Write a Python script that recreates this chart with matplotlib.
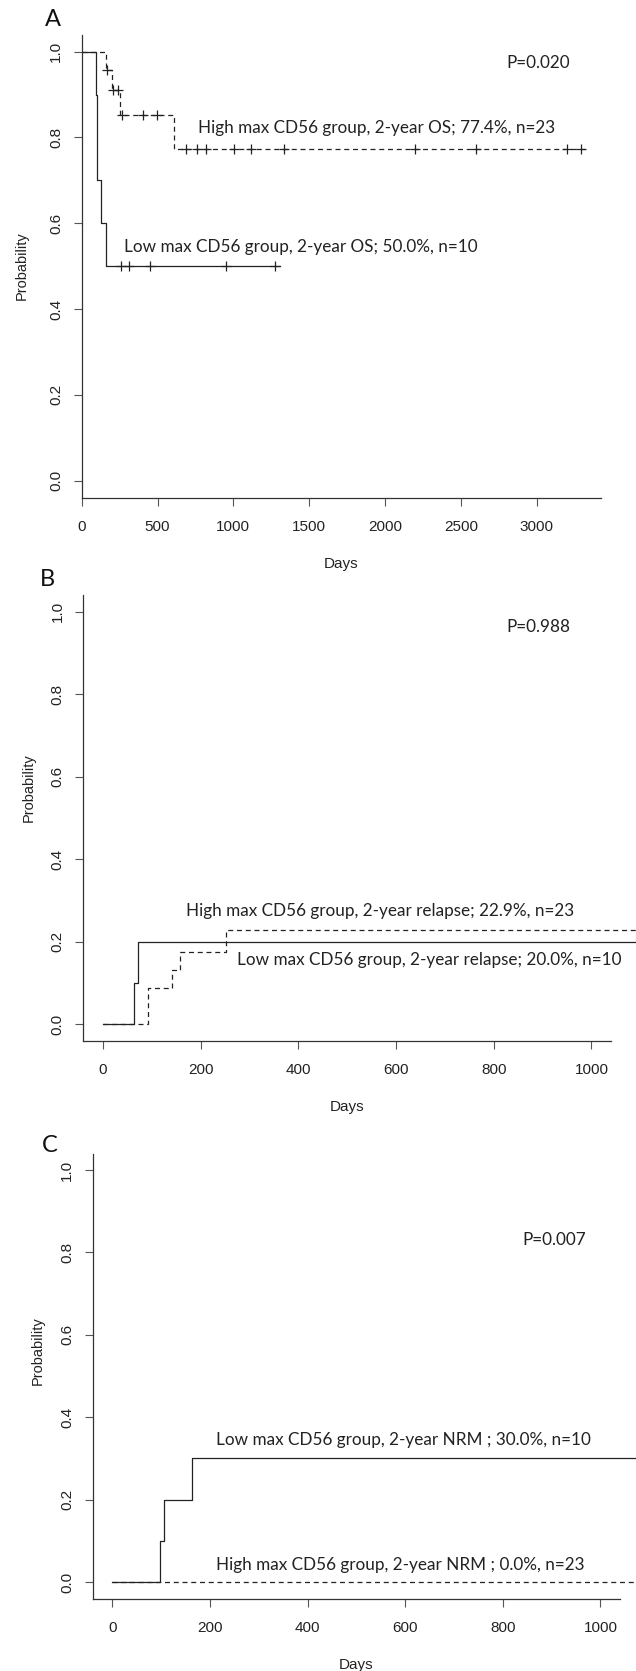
import numpy as np
from matplotlib import pyplot as plt

# Panel A: overall survival, Kaplan-Meier steps (days, probability)
os_low_days = [0, 94, 103, 127, 160, 1307]
os_low_prob = [1.0, 0.9, 0.7, 0.6, 0.5, 0.5]
os_low_censor = [259, 312, 450, 949, 1274]

os_high_days = [0, 160, 198, 250, 611, 3319]
os_high_prob = [1.0, 0.957, 0.911, 0.853, 0.774, 0.774]
os_high_censor = [165, 208, 240, 265, 402, 494, 688, 758, 817, 1006,
                  1114, 1334, 2197, 2597, 3197, 3292]

# Panel B: cumulative incidence of relapse
rel_low_days = [0, 63, 72, 1200]
rel_low_prob = [0.0, 0.1, 0.2, 0.2]
rel_high_days = [0, 92, 142, 157, 252, 1200]
rel_high_prob = [0.0, 0.087, 0.130, 0.174, 0.229, 0.229]

# Panel C: non-relapse mortality
nrm_low_days = [0, 97, 107, 163, 1200]
nrm_low_prob = [0.0, 0.1, 0.2, 0.3, 0.3]
nrm_high_days = [0, 1200]
nrm_high_prob = [0.0, 0.0]

os_xticks = [0, 500, 1000, 1500, 2000, 2500, 3000]
short_xticks = [0, 200, 400, 600, 800, 1000]
prob_ticks = [0.0, 0.2, 0.4, 0.6, 0.8, 1.0]

W, H = 636, 1671
LINE = "#222222"
TICK_FONT = "Liberation Sans"
NOTE_FONT = "Lato"


def step_value(days, prob, t):
    idx = np.searchsorted(days, t, side="right") - 1
    return np.asarray(prob)[idx]


def add_panel(fig, left, right, top, bottom):
    # pixel box -> figure fraction
    return fig.add_axes([left / W, 1 - bottom / H, (right - left) / W, (bottom - top) / H])


def style_axes(ax, xlim, xticks, ylab_dx, ylab_y):
    ax.set_xlim(xlim)
    ax.set_ylim(-0.04, 1.04)
    ax.set_xticks(xticks)
    ax.set_xticklabels([str(v) for v in xticks], family=TICK_FONT)
    ax.set_yticks(prob_ticks)
    ax.set_yticklabels([f"{v:.1f}" for v in prob_ticks], family=TICK_FONT)
    ax.spines[["top", "right"]].set_visible(False)
    for side in ("left", "bottom"):
        ax.spines[side].set_color("#333333")
        ax.spines[side].set_linewidth(0.9)
    ax.tick_params(direction="out", length=5.8, width=0.8, color="#555555",
                   labelsize=11, labelcolor="#222222")
    ax.tick_params(axis="x", pad=10.5)
    ax.tick_params(axis="y", pad=7.5, labelrotation=90)
    for lab in ax.get_yticklabels():
        lab.set_va("center")
    ax.annotate("Days", xy=(0.5, 0), xycoords="axes fraction", xytext=(0, -48),
                textcoords="offset points", ha="center", va="center",
                family=TICK_FONT, fontsize=11, color="#222222")
    ax.annotate("Probability", xy=(0, ylab_y), xycoords="axes fraction",
                xytext=(ylab_dx, 0), textcoords="offset points", ha="center",
                va="center", rotation=90, family=TICK_FONT, fontsize=10.5,
                color="#222222")


def draw_curve(ax, days, prob, dashed, censor=None):
    ls = (0, (4, 3)) if dashed else "-"
    ax.step(days, prob, where="post", color=LINE, lw=0.9, linestyle=ls, clip_on=False)
    if censor is not None:
        ax.plot(censor, step_value(days, prob, censor), "+", ms=6.5, mew=0.9,
                color=LINE, clip_on=False)


def note(ax, x, y, s):
    ax.text(x, y, s, family=NOTE_FONT, fontsize=12.3, color="#222222", va="center")


fig = plt.figure(figsize=(W / 100, H / 100), dpi=100)

# A
ax = add_panel(fig, 81.7, 601, 34.5, 497.7)
style_axes(ax, (0, 3424), os_xticks, -43.5, 0.5)
draw_curve(ax, os_low_days, os_low_prob, False, os_low_censor)
draw_curve(ax, os_high_days, os_high_prob, True, os_high_censor)
note(ax, 2802, 0.974, "P=0.020")
note(ax, 767, 0.823, "High max CD56 group, 2-year OS; 77.4%, n=23")
note(ax, 279, 0.545, "Low max CD56 group, 2-year OS; 50.0%, n=10")

# B
ax = add_panel(fig, 83.3, 611, 595.2, 1040.5)
style_axes(ax, (-40, 1040), short_xticks, -39, 0.567)
draw_curve(ax, rel_low_days, rel_low_prob, False)
draw_curve(ax, rel_high_days, rel_high_prob, True)
note(ax, 825, 0.964, "P=0.988")
note(ax, 170, 0.275, "High max CD56 group, 2-year relapse; 22.9%, n=23")
note(ax, 275, 0.155, "Low max CD56 group, 2-year relapse; 20.0%, n=10")

# C
ax = add_panel(fig, 92.7, 620, 1153.5, 1598.5)
style_axes(ax, (-40, 1040), short_xticks, -39.5, 0.558)
draw_curve(ax, nrm_low_days, nrm_low_prob, False)
draw_curve(ax, nrm_high_days, nrm_high_prob, True)
note(ax, 841, 0.83, "P=0.007")
note(ax, 213, 0.345, "Low max CD56 group, 2-year NRM ; 30.0%, n=10")
note(ax, 213, 0.041, "High max CD56 group, 2-year NRM ; 0.0%, n=23")

for letter, px, py in [("A", 53, 20), ("B", 47, 580), ("C", 50, 1146)]:
    fig.text(px / W, 1 - py / H, letter, family=NOTE_FONT, fontsize=17,
             ha="center", va="center", color="#111111")

fig.savefig("out.png", dpi=100)
